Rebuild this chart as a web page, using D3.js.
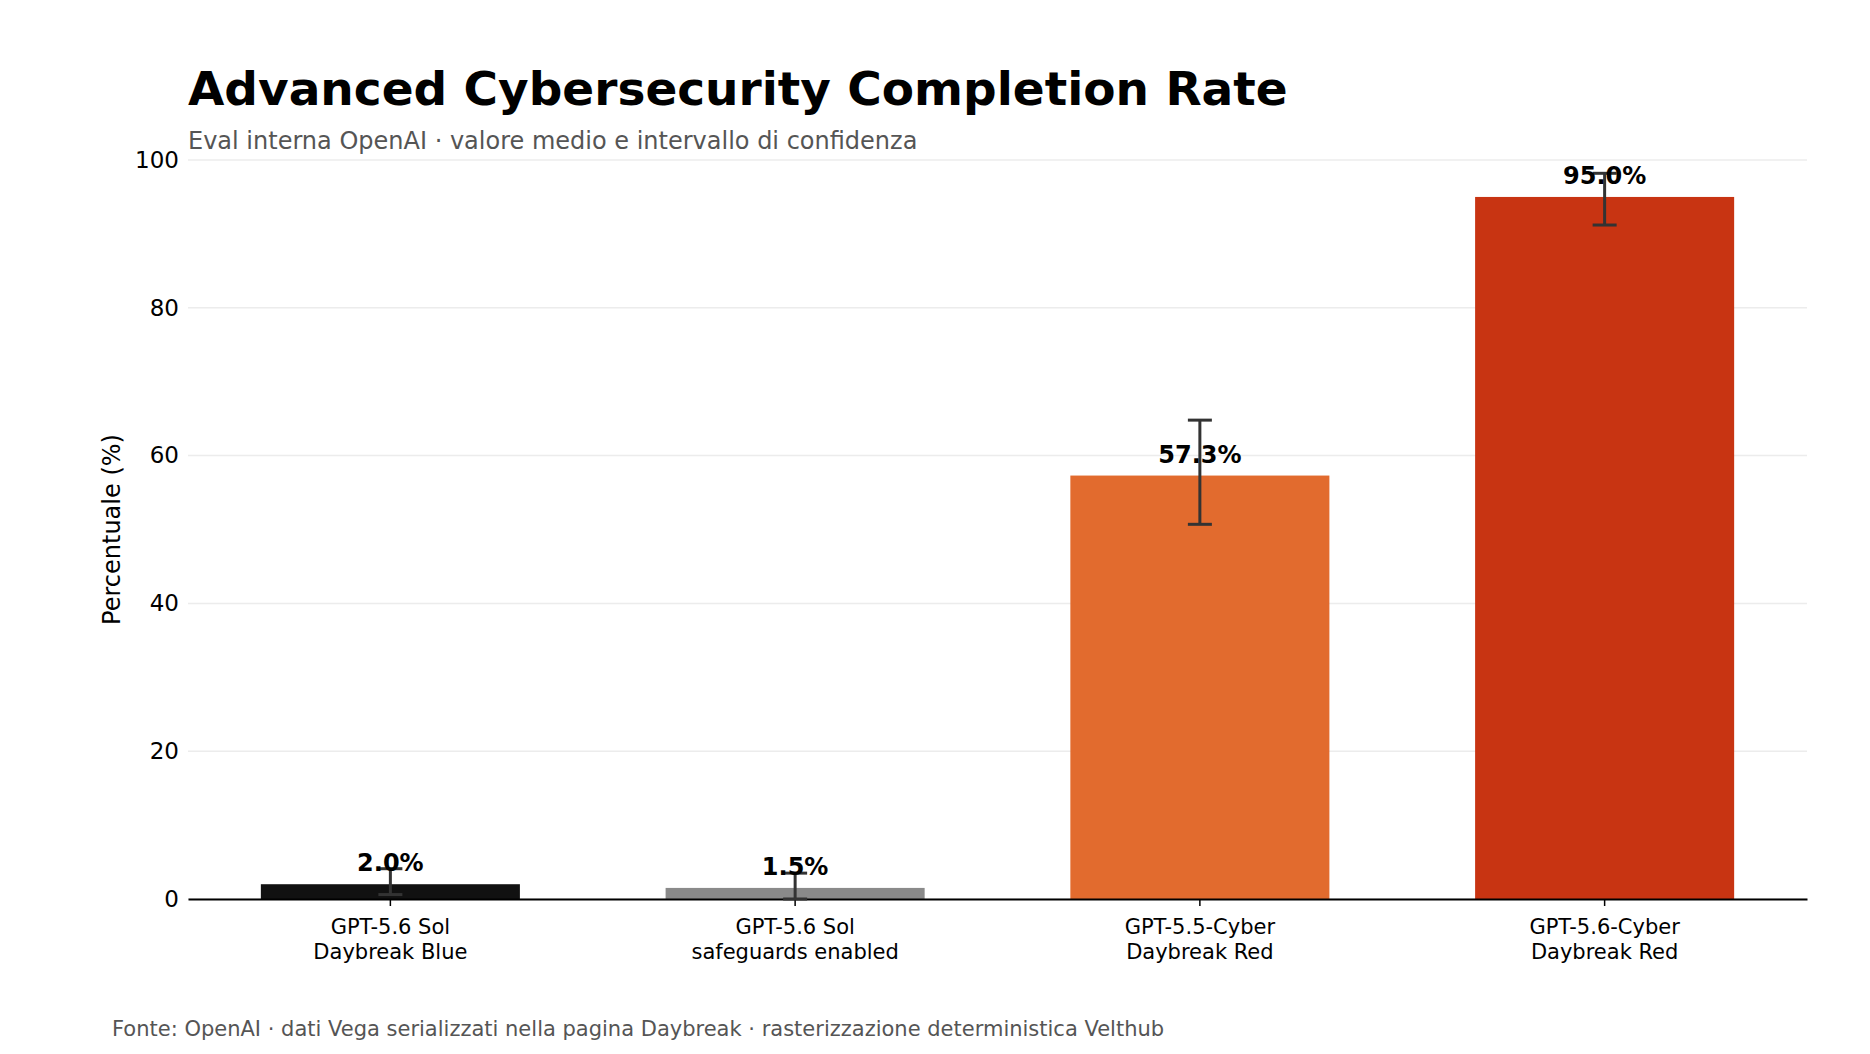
<!DOCTYPE html>
<html>
<head>
  <meta charset="utf-8" />
  <style>
    body { margin: 0; background: #fff; }
    text { font-family: "DejaVu Sans", sans-serif; }
  </style>
</head>
<body>
  <svg id="container" width="1870" height="1054"></svg>
  <script src="https://cdn.jsdelivr.net/npm/d3@7/dist/d3.min.js"></script>
<script>
var models = ['GPT-5.6 Sol\nDaybreak Blue', 'GPT-5.6 Sol\nsafeguards enabled',
  'GPT-5.5-Cyber\nDaybreak Red', 'GPT-5.6-Cyber\nDaybreak Red'];
var values = [2.0, 1.5, 57.3, 95.0];
var ciLow = [0.6, 0.0, 50.7, 91.2];
var ciHigh = [4.1, 3.5, 64.8, 98.2];
var colors = ['#111111', '#8a8a8a', '#e26b2e', '#c83412'];
var yTicks = [0, 20, 40, 60, 80, 100];

var margin = {top: 160, right: 63, bottom: 155, left: 188};
var width = 1870, height = 1054;
var svg = d3.select('#container');

var x = d3.scaleBand()
  .domain(models)
  .range([margin.left, width - margin.right])
  .paddingInner(0.36)
  .paddingOuter(0.18);
var y = d3.scaleLinear()
  .domain([0, 100])
  .range([height - margin.bottom, margin.top]);

// grid
svg.append('g')
  .selectAll('line')
  .data(yTicks)
  .enter().append('line')
    .attr('x1', margin.left)
    .attr('x2', width - margin.right)
    .attr('y1', function (d) { return y(d); })
    .attr('y2', function (d) { return y(d); })
    .attr('stroke', '#ececec')
    .attr('stroke-width', 1.5);

// y axis, labels only
var yAxis = svg.append('g')
  .attr('transform', 'translate(' + margin.left + ',0)')
  .call(d3.axisLeft(y).tickValues(yTicks).tickSize(0).tickPadding(9));
yAxis.select('.domain').remove();
yAxis.selectAll('text')
  .attr('font-size', 23)
  .attr('fill', '#000')
  .style('font-family', '"DejaVu Sans", sans-serif');

// bars
var rows = models.map(function (m, i) {
  return {model: m, value: values[i], lo: ciLow[i], hi: ciHigh[i], color: colors[i]};
});
svg.append('g')
  .selectAll('rect')
  .data(rows)
  .enter().append('rect')
    .attr('x', function (d) { return x(d.model); })
    .attr('width', x.bandwidth())
    .attr('y', function (d) { return y(d.value); })
    .attr('height', function (d) { return y(0) - y(d.value); })
    .attr('fill', function (d) { return d.color; });

// x axis
var xAxis = svg.append('g')
  .attr('transform', 'translate(0,' + y(0) + ')')
  .call(d3.axisBottom(x).tickSize(7).tickSizeOuter(0).tickPadding(6).tickFormat(''));
xAxis.select('.domain').attr('stroke', '#000').attr('stroke-width', 2);
xAxis.selectAll('.tick line').attr('stroke', '#000').attr('stroke-width', 1.5);
xAxis.selectAll('.tick').each(function (d) {
  var t = d3.select(this).append('text')
    .attr('fill', '#000')
    .attr('font-size', 21)
    .attr('text-anchor', 'middle')
    .style('font-family', '"DejaVu Sans", sans-serif');
  d.split('\n').forEach(function (line, k) {
    t.append('tspan').attr('x', 0).attr('y', 35 + k * 25).text(line);
  });
});

// error bars
var cap = 12;
var eb = svg.append('g')
  .attr('stroke', '#333')
  .attr('stroke-width', 3)
  .selectAll('g')
  .data(rows)
  .enter().append('g')
    .attr('transform', function (d) { return 'translate(' + (x(d.model) + x.bandwidth() / 2) + ',0)'; });
eb.append('line')
  .attr('y1', function (d) { return y(d.lo); })
  .attr('y2', function (d) { return y(d.hi); });
eb.append('line')
  .attr('x1', -cap).attr('x2', cap)
  .attr('y1', function (d) { return y(d.lo); })
  .attr('y2', function (d) { return y(d.lo); });
eb.append('line')
  .attr('x1', -cap).attr('x2', cap)
  .attr('y1', function (d) { return y(d.hi); })
  .attr('y2', function (d) { return y(d.hi); });

// value labels
svg.append('g')
  .selectAll('text')
  .data(rows)
  .enter().append('text')
    .attr('x', function (d) { return x(d.model) + x.bandwidth() / 2; })
    .attr('y', function (d) { return y(d.value) - 13; })
    .attr('text-anchor', 'middle')
    .attr('font-size', 24)
    .attr('font-weight', 'bold')
    .attr('fill', '#000')
    .text(function (d) { return d.value.toFixed(1) + '%'; });

// y title
svg.append('text')
  .attr('transform', 'translate(120,' + ((y(0) + y(100)) / 2) + ') rotate(-90)')
  .attr('text-anchor', 'middle')
  .attr('font-size', 24)
  .attr('fill', '#000')
  .text('Percentuale (%)');

// titles
svg.append('text')
  .attr('x', margin.left).attr('y', 105)
  .attr('font-size', 47)
  .attr('font-weight', 'bold')
  .attr('fill', '#000')
  .text('Advanced Cybersecurity Completion Rate');
svg.append('text')
  .attr('x', margin.left).attr('y', 149)
  .attr('font-size', 24)
  .attr('fill', '#555')
  .text('Eval interna OpenAI · valore medio e intervallo di confidenza');
svg.append('text')
  .attr('x', 112).attr('y', 1036)
  .attr('font-size', 21)
  .attr('fill', '#555')
  .text('Fonte: OpenAI · dati Vega serializzati nella pagina Daybreak · rasterizzazione deterministica Velthub');
</script>
</body>
</html>
